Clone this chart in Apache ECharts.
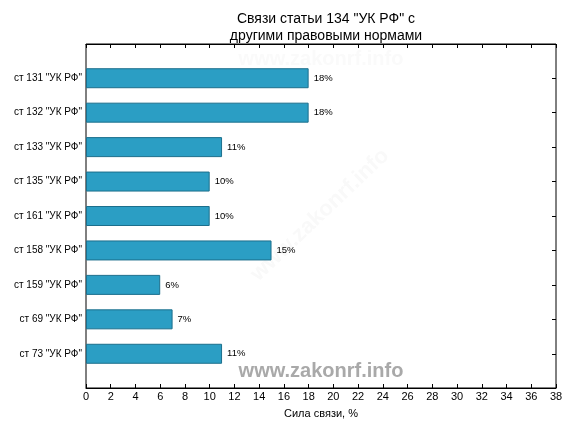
<!DOCTYPE html>
<html><head><meta charset="utf-8">
<script src="https://cdn.jsdelivr.net/npm/echarts@6/dist/echarts.min.js"></script>
<style>html,body{margin:0;padding:0;background:#fff}#c{width:576px;height:432px}</style>
</head><body><div id="c"></div>
<script>
var categories = ['ст 131 "УК РФ"','ст 132 "УК РФ"','ст 133 "УК РФ"','ст 135 "УК РФ"','ст 161 "УК РФ"','ст 158 "УК РФ"','ст 159 "УК РФ"','ст 69 "УК РФ"','ст 73 "УК РФ"'];
var values = [18,18,11,10,10,15,6,7,11];
var titleText = 'Связи статьи 134 "УК РФ" с\nдругими правовыми нормами';
var xName = 'Сила связи, %';
var watermark = 'www.zakonrf.info';

var F = '"Liberation Sans", Arial, sans-serif';
var chart = echarts.init(document.getElementById('c'), null, {renderer:'canvas'});
var tickStyle = {show:true, inside:true, length:4, lineStyle:{color:'#000', width:1}};
chart.setOption({
  backgroundColor:'#fff',
  animation:false,
  title:{text:titleText, left:321, top:6, textAlign:'center',
    textStyle:{fontFamily:F, fontSize:14, fontWeight:'normal', color:'#000', lineHeight:17}},
  grid:[
    {left:86, right:20, top:44, bottom:44, show:true, borderColor:'#000', borderWidth:1, backgroundColor:'transparent'},
    {left:86, right:20, top:61, bottom:61}
  ],
  xAxis:[
    {gridIndex:0, type:'value', min:0, max:38, interval:2, position:'bottom',
      axisLine:{show:true, lineStyle:{color:'#000'}}, axisTick:tickStyle, splitLine:{show:false},
      axisLabel:{fontFamily:F, fontSize:11, color:'#000', margin:3},
      name:xName, nameLocation:'middle', nameGap:20,
      nameTextStyle:{fontFamily:F, fontSize:11, color:'#000'}},
    {gridIndex:0, type:'value', min:0, max:38, interval:2, position:'top',
      axisLine:{show:true, lineStyle:{color:'#000'}}, axisTick:tickStyle, splitLine:{show:false},
      axisLabel:{show:false}},
    {gridIndex:1, type:'value', min:0, max:38, show:false}
  ],
  yAxis:[
    {gridIndex:0, type:'value', show:false, min:0, max:1},
    {gridIndex:1, type:'category', data:categories, inverse:true, position:'left',
      axisLine:{show:false}, axisTick:{show:true, inside:true, length:4, alignWithLabel:true, lineStyle:{color:'#000'}},
      axisLabel:{fontFamily:F, fontSize:10, color:'#000', margin:4}, splitLine:{show:false}},
    {gridIndex:1, type:'category', data:categories, inverse:true, position:'right',
      axisLine:{show:false}, axisTick:{show:true, inside:true, length:4, alignWithLabel:true, lineStyle:{color:'#000'}},
      axisLabel:{show:false}, splitLine:{show:false}}
  ],
  series:[{
    type:'bar', xAxisIndex:2, yAxisIndex:1, data:values, barWidth:20,
    itemStyle:{color:'#2b9ec4', borderColor:'#1c6f8c', borderWidth:1},
    label:{show:true, position:'right', distance:5, formatter:'{c}%', fontFamily:F, fontSize:9.5, color:'#000'}
  }],
  graphic:[
    {type:'text', z:-1, x:321, y:59, style:{text:watermark, x:0, y:0, textAlign:'center', textVerticalAlign:'middle',
      font:'bold 20px "Liberation Sans", Arial, sans-serif', fill:'#fafafa'}, silent:true},
    {type:'text', z:-1, x:320, y:215, rotation:0.76, style:{text:watermark, x:0, y:0, textAlign:'center', textVerticalAlign:'middle',
      font:'bold 22px "Liberation Sans", Arial, sans-serif', fill:'#f9f9f9'}, silent:true},
    {type:'text', z:100, x:321, y:371, style:{text:watermark, x:0, y:0, textAlign:'center', textVerticalAlign:'middle',
      font:'bold 20px "Liberation Sans", Arial, sans-serif', fill:'#a9a9a9'}, silent:true}
  ]
});
</script></body></html>
